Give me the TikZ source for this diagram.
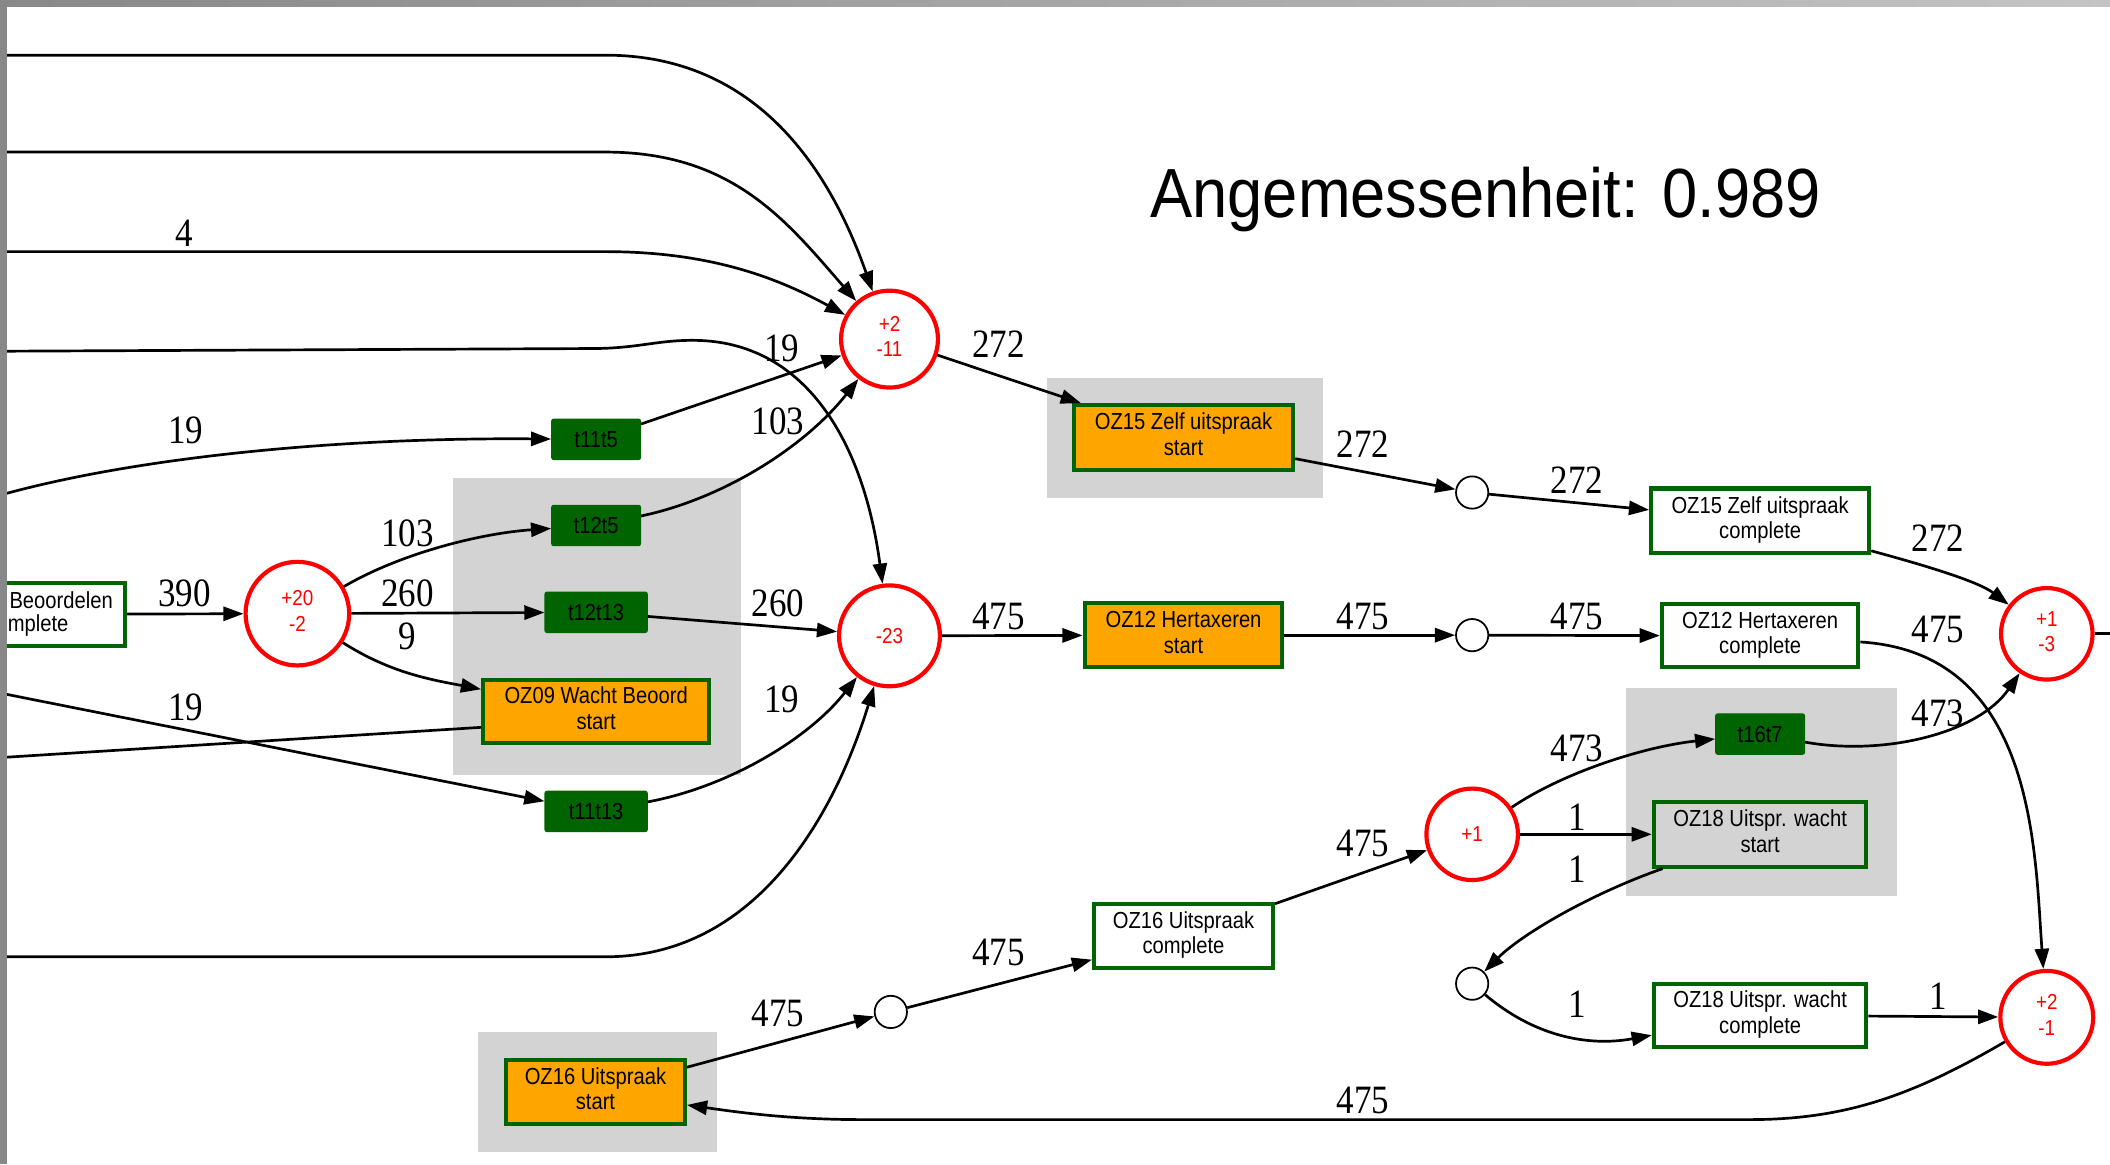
\documentclass[tikz,border=0pt]{standalone}
\usepackage{fontspec}
\usepackage{graphicx}
\setmainfont{Liberation Serif}
\newfontfamily\boxfont{Liberation Sans}
\usetikzlibrary{arrows.meta,calc}

\definecolor{boxgreen}{HTML}{006400}
\definecolor{taskorange}{HTML}{FFA500}
\definecolor{clustergray}{HTML}{D3D3D3}
\definecolor{placered}{HTML}{FF0000}
\definecolor{framegray}{HTML}{888888}
\definecolor{framelight}{HTML}{C4C4C4}

% text is set slightly taller than wide
\newcommand\vst[1]{\scalebox{1}[1.15]{#1}}
\newcommand\two[2]{\vst{\begin{tabular}{@{}c@{}}#1\\#2\end{tabular}}}

\tikzset{
  flow/.style={line width=2pt, -{Triangle[length=15pt,width=10.5pt]}},
  plainflow/.style={line width=2pt},
  boxbase/.style={rectangle, draw=boxgreen, line width=3pt, inner sep=0pt,
    font=\boxfont\fontsize{15}{16.5}\selectfont, align=center},
  task/.style={boxbase, fill=taskorange},
  done/.style={boxbase, fill=white},
  waiting/.style={boxbase, fill=clustergray},
  silent/.style={rectangle, fill=boxgreen, draw=boxgreen, line width=0.8pt,
    rounded corners=1.5pt, inner sep=0pt, minimum height=30pt,
    font=\boxfont\fontsize{15}{16.5}\selectfont},
  place/.style={circle, draw=placered, line width=3.1pt, fill=white, inner sep=0pt,
    text=placered, font=\boxfont\fontsize{14}{16.5}\selectfont},
  hole/.style={circle, draw=black, line width=1.3pt, fill=white, minimum size=24pt, inner sep=0pt},
  lbl/.style={inner sep=0pt, font=\fontsize{26}{28}\selectfont},
  cluster/.style={fill=clustergray},
}

\begin{document}
\begin{tikzpicture}[x=1pt,y=-1pt]
\useasboundingbox (0,0) rectangle (1568,865);
\clip (0,0) rectangle (1568,865);
\fill[white] (0,0) rectangle (1568,865);

% clusters
\fill[cluster] (337,355) rectangle (551,576);
\fill[cluster] (778,281) rectangle (983,370);
\fill[cluster] (1208,511) rectangle (1410,666);
\fill[cluster] (355,767) rectangle (533,856);

% title
\node[inner sep=0pt, font=\boxfont\fontsize{47}{50}\selectfont] (title) at (1104,148)
  {\scalebox{1}[1.1]{Angemessenheit: 0.989}};

% places
\node[place, minimum size=72pt] (p1) at (661,252) {\two{+2}{-11}};
\node[place, minimum size=77pt] (p2) at (221,456) {\two{+20}{-2}};
\node[place, minimum size=75pt] (p3) at (661,472.5) {\vst{-23}};
\node[place, minimum size=68pt] (p4) at (1521,471) {\two{+1}{-3}};
\node[place, minimum size=68pt] (p5) at (1094,620) {\vst{+1}};
\node[place, minimum size=69pt] (p6) at (1521,756) {\two{+2}{-1}};

\node[hole] (s1) at (1094,366) {};
\node[hole] (s2) at (1094,472) {};
\node[hole] (s3) at (662,752) {};
\node[hole] (s4) at (1094,731) {};

% transitions
\node[done, minimum width=158pt, minimum height=47pt] (beo) at (14,456.5) {};
\node[inner sep=0pt, anchor=east, font=\boxfont\fontsize{15}{16.5}\selectfont] (beoA) at (84,446) {\vst{Beoordelen}};
\node[inner sep=0pt, anchor=east, font=\boxfont\fontsize{15}{16.5}\selectfont] (beoB) at (51,465) {\vst{mplete}};

\node[silent, minimum width=66pt] (t11t5) at (443,326.5) {\vst{t11t5}};
\node[silent, minimum width=66pt] (t12t5) at (443,390.5) {\vst{t12t5}};
\node[silent, minimum width=76pt] (t12t13) at (443,455) {\vst{t12t13}};
\node[silent, minimum width=76pt] (t11t13) at (443,603) {\vst{t11t13}};
\node[silent, minimum width=66pt] (t16t7) at (1308,545.5) {\vst{t16t7}};

\node[task, minimum width=168pt, minimum height=47pt] (oz09) at (443,528.5) {\two{OZ09 Wacht Beoord}{start}};
\node[task, minimum width=163pt, minimum height=48pt] (oz15s) at (879.5,325) {\two{OZ15 Zelf uitspraak}{start}};
\node[task, minimum width=147pt, minimum height=48pt] (oz12s) at (879.5,472) {\two{OZ12 Hertaxeren}{start}};
\node[task, minimum width=133pt, minimum height=47pt] (oz16s) at (442.5,811.5) {\two{OZ16 Uitspraak}{start}};
\node[done, minimum width=162pt, minimum height=48pt] (oz15c) at (1308,387) {\two{OZ15 Zelf uitspraak}{complete}};
\node[done, minimum width=146pt, minimum height=47pt] (oz12c) at (1308,472.5) {\two{OZ12 Hertaxeren}{complete}};
\node[done, minimum width=133pt, minimum height=47pt] (oz16c) at (879.5,695.5) {\two{OZ16 Uitspraak}{complete}};
\node[waiting, minimum width=158pt, minimum height=48pt] (oz18s) at (1308,620) {\two{OZ18 Uitspr. wacht}{start}};
\node[done, minimum width=158pt, minimum height=47pt] (oz18c) at (1308,754.5) {\two{OZ18 Uitspr. wacht}{complete}};

% loose ends at the picture border
\coordinate (inA) at (0,41);
\coordinate (inB) at (0,113);
\coordinate (inC) at (0,187);
\coordinate (inD) at (0,261);
\coordinate (inE) at (0,368);
\coordinate (inF) at (0,515);
\coordinate (outG) at (0,563);
\coordinate (inH) at (0,711);
\coordinate (outR) at (1568,471);

% arcs into the first place
\draw[flow] (inA) -- (450,41) .. controls (565,41) and (618,130) .. (p1);
\draw[flow] (inB) -- (450,113) .. controls (545,113) and (585,165) .. (p1);
\draw[flow] (inC) -- (450,187) .. controls (525,187) and (575,205) .. (p1);
\draw[flow] (t11t5) -- (p1);
\draw[flow] (t12t5) .. controls (540,370) and (600,330) .. (p1);

% arcs into the -23 place
\draw[flow] (inD) -- (440,259) .. controls (475,259) and (490,252) .. (520,253)
  .. controls (600,256) and (642,330) .. (p3);
\draw[flow] (t12t13) -- (p3);
\draw[flow] (t11t13) .. controls (540,585) and (600,550) .. (p3);
\draw[flow] (inH) -- (450,711) .. controls (565,711) and (622,600) .. (p3);

% left part
\draw[flow] (inE) .. controls (100,340) and (250,325) .. (t11t5);
\draw[flow] (beo) -- (p2);
\draw[flow] (p2) .. controls (300,410) and (360,396) .. (t12t5);
\draw[flow] (p2) -- (t12t13);
\draw[flow] (p2) .. controls (290,500) and (320,505) .. (oz09);
\draw[flow] (inF) -- (t11t13);
\draw[plainflow] ([yshift=-12pt]oz09.west) -- (outG);

% upper right chain
\draw[flow] (p1) -- (oz15s);
\draw[flow] (oz15s) -- (s1);
\draw[flow] (s1) -- (oz15c);
\draw[flow] (oz15c) .. controls (1430,420) and (1470,432) .. (p4);

% middle chain
\draw[flow] (p3) -- (oz12s);
\draw[flow] (oz12s) -- (s2);
\draw[flow] (s2) -- (oz12c);
\draw[flow] (oz12c) .. controls (1512,485) and (1512,630) .. (p6);
\draw[plainflow] (p4) -- (outR);

% lower right part
\draw[flow] (t16t7) .. controls (1400,562) and (1470,545) .. (p4);
\draw[flow] (p5) .. controls (1160,575) and (1220,555) .. (t16t7);
\draw[flow] (p5) -- (oz18s);
\draw[flow] (oz18s) .. controls (1180,665) and (1130,695) .. (s4);
\draw[flow] (s4) .. controls (1140,770) and (1180,778) .. (oz18c);
\draw[flow] (oz18c) -- (p6);
\draw[flow] (p6) .. controls (1420,815) and (1370,832) .. (1300,832) -- (640,832)
  .. controls (585,832) and (545,826) .. (oz16s);
\draw[flow] (oz16s) -- (s3);
\draw[flow] (s3) -- (oz16c);
\draw[flow] (oz16c) -- (p5);

% arc weights
\node[lbl] (w01) at (137,173) {\vst{4}};
\node[lbl] (w02) at (138,320) {\vst{19}};
\node[lbl] (w03) at (581,259) {\vst{19}};
\node[lbl] (w04) at (578,313) {\vst{103}};
\node[lbl] (w05) at (303,396) {\vst{103}};
\node[lbl] (w06) at (137,441) {\vst{390}};
\node[lbl] (w07) at (303,441) {\vst{260}};
\node[lbl] (w08) at (303,473) {\vst{9}};
\node[lbl] (w09) at (578,448) {\vst{260}};
\node[lbl] (w10) at (581,520) {\vst{19}};
\node[lbl] (w11) at (138,526) {\vst{19}};
\node[lbl] (w12) at (742,256) {\vst{272}};
\node[lbl] (w13) at (1013,330) {\vst{272}};
\node[lbl] (w14) at (1172,357) {\vst{272}};
\node[lbl] (w15) at (1440,400) {\vst{272}};
\node[lbl] (w16) at (742,458) {\vst{475}};
\node[lbl] (w17) at (1013,458) {\vst{475}};
\node[lbl] (w18) at (1172,458) {\vst{475}};
\node[lbl] (w19) at (1440,468) {\vst{475}};
\node[lbl] (w20) at (1440,530) {\vst{473}};
\node[lbl] (w21) at (1172,556) {\vst{473}};
\node[lbl] (w22) at (1172,607) {\vst{1}};
\node[lbl] (w23) at (1172,646) {\vst{1}};
\node[lbl] (w24) at (1172,746) {\vst{1}};
\node[lbl] (w25) at (1440,740) {\vst{1}};
\node[lbl] (w26) at (1013,818) {\vst{475}};
\node[lbl] (w27) at (578,753) {\vst{475}};
\node[lbl] (w28) at (742,708) {\vst{475}};
\node[lbl] (w29) at (1013,627) {\vst{475}};

% window frame
\shade[left color=framegray, right color=framelight] (0,0) rectangle (1568,5);
\fill[framegray] (0,0) rectangle (5,865);
\end{tikzpicture}
\end{document}
